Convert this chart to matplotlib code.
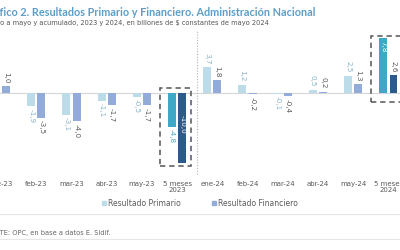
import matplotlib

matplotlib.use("Agg")
import matplotlib.pyplot as plt  # noqa: E402
from matplotlib.lines import Line2D  # noqa: E402
from matplotlib.patches import Patch, Rectangle  # noqa: E402

categories = ["ene-23", "feb-23", "mar-23", "abr-23", "may-23", "5 meses\n2023",
              "ene-24", "feb-24", "mar-24", "abr-24", "may-24", "5 meses\n2024"]
primario = [1.8, -1.9, -3.1, -1.1, -0.5, -4.8, 3.7, 1.2, -0.1, 0.5, 2.5, 7.8]
financiero = [1.0, -3.5, -4.0, -1.7, -1.7, -10.0, 1.8, -0.2, -0.4, 0.2, 1.3, 2.6]
acumulados = [5, 11]

C_P, C_F = "#bddcea", "#93abd8"
C_PA, C_FA = "#3fa8c6", "#2d5a8c"
GRAY = "#5a5a5a"

fig = plt.figure(figsize=(4.0, 2.5), dpi=100)
ax = fig.add_axes([0.0, 0.288, 1.0, 0.592])
ax.set_xlim(-0.03, 11.33)
ax.set_ylim(-12.14, 9.0)

w, off = 0.225, 0.145
for i, (p, f) in enumerate(zip(primario, financiero)):
    acc = i in acumulados
    ax.bar(i - off, p, w, color=C_PA if acc else C_P)
    ax.bar(i + off, f, w, color=C_FA if acc else C_F)
    for x, v, col in ((i - off, p, "#86b3c9"), (i + off, f, GRAY)):
        txt = f"{v:.1f}".replace(".", ",")
        if acc and abs(v) > 5:
            # big accumulated bars carry their label inside
            if v > 0:
                ax.annotate(txt, (x, v), xytext=(0, -2), textcoords="offset points",
                            rotation=-90, ha="center", va="top", fontsize=5.2, color="white")
            else:
                ax.text(x, v / 2 + 0.5, txt, rotation=-90, ha="center", va="center",
                        fontsize=5.2, color="white")
            continue
        if acc and col != GRAY:
            col = "#4fa9c6"
        ax.annotate(txt, (x, v), xytext=(0, 2 if v >= 0 else -2), textcoords="offset points",
                    rotation=-90, ha="center", va="bottom" if v >= 0 else "top",
                    fontsize=5.2, color=col)

ax.axhline(0, color="#d6d6d6", lw=0.8, zorder=0)
ax.axvline(5.57, ymin=0.03, ymax=1.0, ls=(0, (1, 1.5)), color="#b5b5b5", lw=0.8, clip_on=False)

# dashed frames round the accumulated groups
for c, (lo, hi) in zip(acumulados, [(-10.43, 0.71), (-1.29, 8.14)]):
    ax.add_patch(Rectangle((c - 0.48, lo), 0.88, hi - lo, fill=False, ec="#555555",
                           lw=1.1, ls=(0, (3.5, 2.5)), clip_on=False))

ax.set_xticks(range(len(categories)), categories, fontsize=5, color=GRAY, linespacing=1.0)
ax.tick_params(axis="x", length=0, pad=2.5)
ax.set_yticks([])
for s in ax.spines.values():
    s.set_visible(False)

fig.legend(handles=[Patch(color=C_P, label="Resultado Primario"),
                    Patch(color=C_F, label="Resultado Financiero")],
           loc="center", bbox_to_anchor=(0.5, 0.188), ncol=2, frameon=False, fontsize=5.5,
           handlelength=0.5, handleheight=0.5, handletextpad=0.25, columnspacing=4.2,
           labelcolor=GRAY)

renderer = fig.canvas.get_renderer()


def cut_text(y, full, hidden, **kw):
    """Place text so that its first characters fall off the left edge."""
    probe = fig.text(0, 0, hidden, **kw)
    shift = probe.get_window_extent(renderer).width / fig.bbox.width
    probe.remove()
    fig.text(-shift, y, full, va="center", **kw)


cut_text(0.952, "Gráfico 2. Resultados Primario y Financiero. Administración Nacional", "Grá",
         fontsize=7.8, fontweight="bold", color="#5c9ec7", family="Lato")
cut_text(0.908, "Enero a mayo y acumulado, 2023 y 2024, en billones de $ constantes de mayo 2024",
         "Ener", fontsize=4.8, color="#555555")
cut_text(0.068, "FUENTE: OPC, en base a datos E. Sidif.", "FUEN", fontsize=4.8, color="#666666")

for y in (1 - 214 / 250, 1 - 239 / 250):
    fig.add_artist(Line2D([0, 1], [y, y], transform=fig.transFigure, color="#e6e6e6", lw=0.8))

fig.savefig("out.png", dpi=100)
